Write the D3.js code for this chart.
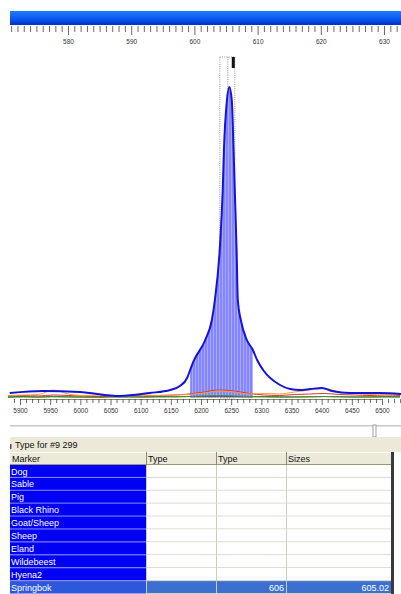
<!DOCTYPE html>
<html><head><meta charset="utf-8">
<script src="https://cdn.jsdelivr.net/npm/d3@7"></script>
<style>
html,body{margin:0;padding:0;background:#fff;}
svg{display:block;}
text{font-family:"Liberation Sans",Arial,sans-serif;}
</style></head>
<body>
<script>
// ---------- data ----------
const sizeTicks = [580, 590, 600, 610, 620, 630];
const scanTicks = [5900, 5950, 6000, 6050, 6100, 6150, 6200, 6250, 6300, 6350, 6400, 6450, 6500];

const blueScan = [5883, 5938, 5999, 6066, 6115, 6149, 6165, 6177, 6182, 6187, 6207, 6218, 6223, 6231, 6236, 6238, 6243, 6247, 6251, 6254, 6256, 6259, 6261, 6266, 6276, 6286, 6293, 6303, 6331, 6348, 6364, 6381, 6401, 6417, 6447, 6497, 6532];
const blueVal  = [50, 70, 60, 20, 50, 80, 120, 200, 280, 360, 580, 780, 980, 1480, 2080, 2480, 2980, 3110, 2980, 2480, 2080, 1480, 980, 780, 580, 480, 380, 280, 130, 90, 80, 90, 100, 70, 50, 50, 40];

const minorScan = [5880, 5905, 5930, 5955, 5980, 6005, 6030, 6055, 6080, 6105, 6130, 6155, 6180, 6205, 6230, 6255, 6280, 6305, 6330, 6355, 6380, 6405, 6430, 6455, 6480, 6505, 6530];
const orangeVal = [25, 30, 35, 80, 40, 25, 30, 20, 25, 30, 25, 30, 35, 50, 70, 60, 40, 45, 40, 60, 80, 95, 60, 45, 35, 40, 35];
const redVal    = [20, 25, 20, 30, 25, 20, 15, 20, 25, 20, 25, 30, 40, 60, 80, 70, 45, 30, 25, 35, 40, 45, 35, 30, 25, 30, 25];
const greenVal  = [5, 10, 8, 12, 10, 8, 5, 10, 12, 8, 10, 12, 15, 20, 25, 20, 15, 10, 8, 10, 12, 15, 12, 10, 8, 10, 8];
const darkVal   = [12, 15, 10, 15, 12, 10, 14, 12, 10, 12, 15, 12, 14, 16, 18, 15, 12, 14, 12, 10, 12, 14, 12, 10, 12, 14, 12];

const fillRange = [6182, 6286];
const binRange = [6232, 6256];

const titleText = "Type for #9 299";
const headers = ["Marker", "Type", "Type", "Sizes"];
const markers = ["Dog", "Sable", "Pig", "Black Rhino", "Goat/Sheep", "Sheep", "Eland", "Wildebeest", "Hyena2", "Springbok"];
const typeCol = ["", "", "", "", "", "", "", "", "", "606"];
const sizeCol = ["", "", "", "", "", "", "", "", "", "605.02"];

// ---------- drawing ----------
const W = 401, H = 594;
const svg = d3.select("body").append("svg").attr("width", W).attr("height", H);
const defs = svg.append("defs");

const grad = defs.append("linearGradient").attr("id", "bar").attr("x1", 0).attr("y1", 0).attr("x2", 0).attr("y2", 1);
grad.append("stop").attr("offset", "0%").attr("stop-color", "#1f7cff");
grad.append("stop").attr("offset", "60%").attr("stop-color", "#0a55f0");
grad.append("stop").attr("offset", "100%").attr("stop-color", "#0030c0");

const pat = defs.append("pattern").attr("id", "stripes").attr("patternUnits", "userSpaceOnUse")
  .attr("width", 3).attr("height", 10);
pat.append("rect").attr("width", 3).attr("height", 10).attr("fill", "#8585ff");
pat.append("rect").attr("width", 1).attr("height", 10).attr("fill", "#a9a9ff");

// top blue bar
svg.append("rect").attr("x", 10).attr("y", 11).attr("width", W - 10).attr("height", 14).attr("fill", "url(#bar)");

// scales
const xBp = d3.scaleLinear().domain([580, 630]).range([68, 384]);
const xScan = d3.scaleLinear().domain([5900, 6500]).range([20, 382]);
const ySig = d3.scaleLinear().domain([0, 3110]).range([398, 87]);

// top ruler
const bpAll = d3.range(565, 634);
const topAxis = d3.axisBottom(xBp).tickValues(bpAll)
  .tickFormat(d => sizeTicks.includes(d) ? String(d) : "").tickSize(6).tickSizeOuter(0);
const gTop = svg.append("g").attr("transform", "translate(0,26)").call(topAxis);
gTop.select(".domain").remove();
gTop.selectAll(".tick line").attr("stroke", "#444").attr("stroke-width", 0.8)
  .attr("y2", d => sizeTicks.includes(d) ? 9 : 6);
gTop.selectAll(".tick text").attr("font-size", "6.5px").attr("fill", "#333").attr("y", 13)
  .attr("font-family", "Liberation Sans, Arial, sans-serif");
gTop.selectAll(".tick").filter(d => xBp(d) < 10).remove();

// bin box (dotted)
const bx0 = xScan(binRange[0]) - 0.5, bx1 = xScan(binRange[1]);
svg.append("rect").attr("x", bx0).attr("y", 57).attr("width", bx1 - bx0).attr("height", 398 - 57)
  .attr("fill", "none").attr("stroke", "#777").attr("stroke-width", 0.8).attr("stroke-dasharray", "1,1.2");
svg.append("line").attr("x1", (bx0 + bx1) / 2 + 0.5).attr("x2", (bx0 + bx1) / 2 + 0.5).attr("y1", 57).attr("y2", 90)
  .attr("stroke", "#777").attr("stroke-width", 0.8).attr("stroke-dasharray", "1,1.2");
svg.append("rect").attr("x", bx1 - 3).attr("y", 57).attr("width", 3).attr("height", 11).attr("fill", "#111");

// blue data
const blue = blueScan.map((s, i) => ({s, v: blueVal[i]}));
const fillPts = blue.filter(d => d.s >= fillRange[0] && d.s <= fillRange[1]);
svg.append("path").datum(fillPts)
  .attr("d", d3.area().x(d => xScan(d.s)).y0(ySig(3)).y1(d => ySig(d.v)).curve(d3.curveMonotoneX))
  .attr("fill", "url(#stripes)");

// minor traces
const minor = [
  {vals: darkVal, color: "#4a4a20"},
  {vals: greenVal, color: "#3c9a3c"},
  {vals: redVal, color: "#d83a2a"},
  {vals: orangeVal, color: "#ff9a3a"}
];
minor.forEach(m => {
  svg.append("path").datum(minorScan.map((s, i) => ({s, v: m.vals[i]})))
    .attr("d", d3.line().x(d => xScan(d.s)).y(d => ySig(d.v)).curve(d3.curveMonotoneX))
    .attr("fill", "none").attr("stroke", m.color).attr("stroke-width", 1);
});

// blue trace
svg.append("path").datum(blue)
  .attr("d", d3.line().x(d => xScan(d.s)).y(d => ySig(d.v)).curve(d3.curveMonotoneX))
  .attr("fill", "none").attr("stroke", "#1414d8").attr("stroke-width", 2);

// bottom axis
const scanAll = d3.range(5870, 6540, 10);
const botAxis = d3.axisBottom(xScan).tickValues(scanAll)
  .tickFormat(d => scanTicks.includes(d) ? String(d) : "").tickSize(4).tickSizeOuter(0);
const gBot = svg.append("g").attr("transform", "translate(0,399)").call(botAxis);
gBot.select(".domain").attr("stroke", "#6b6b3a").attr("stroke-width", 0.8);
gBot.selectAll(".tick").filter(d => xScan(d) < 10 || xScan(d) > W).remove();
gBot.selectAll(".tick line").attr("stroke", "#444").attr("stroke-width", 0.8)
  .attr("y2", d => scanTicks.includes(d) ? 6 : 4);
gBot.selectAll(".tick text").attr("font-size", "6.5px").attr("fill", "#333").attr("y", 9)
  .attr("font-family", "Liberation Sans, Arial, sans-serif");

// slider
svg.append("rect").attr("x", 10).attr("y", 425).attr("width", W - 10).attr("height", 1.5).attr("fill", "#c8c8c8");
svg.append("rect").attr("x", 373).attr("y", 425).attr("width", 3).attr("height", 12).attr("fill", "#fff")
  .attr("stroke", "#888").attr("stroke-width", 0.8);

// title bar
svg.append("rect").attr("x", 10).attr("y", 437).attr("width", W - 10).attr("height", 15).attr("fill", "#ece9d8");
svg.append("rect").attr("x", 10).attr("y", 444).attr("width", 1.5).attr("height", 5).attr("fill", "#555");
svg.append("text").attr("x", 15).attr("y", 448).attr("font-size", "9px").attr("fill", "#111").text(titleText);

// table
const colX = [10, 146, 216, 286, 391];
const hTop = 452, hH = 13, rTop = 465, rowH = 12.9;
svg.append("rect").attr("x", 10).attr("y", hTop).attr("width", 381).attr("height", hH).attr("fill", "#ece9d8");
svg.append("line").attr("x1", 10).attr("x2", 391).attr("y1", hTop + 0.5).attr("y2", hTop + 0.5).attr("stroke", "#fff");
svg.append("line").attr("x1", 10).attr("x2", 391).attr("y1", hTop + hH - 0.5).attr("y2", hTop + hH - 0.5).attr("stroke", "#9a9680");
headers.forEach((h, i) => {
  svg.append("text").attr("x", colX[i] + 2).attr("y", hTop + 9.5).attr("font-size", "9px").attr("fill", "#111").text(h);
  if (i > 0) svg.append("line").attr("x1", colX[i] + 0.5).attr("x2", colX[i] + 0.5).attr("y1", hTop).attr("y2", hTop + hH)
    .attr("stroke", "#8c8a78");
});

const rows = svg.append("g").selectAll("g").data(markers).join("g")
  .attr("transform", (d, i) => `translate(0,${rTop + i * rowH})`);
rows.append("rect").attr("x", colX[1]).attr("width", colX[4] - colX[1]).attr("height", rowH)
  .attr("fill", (d, i) => i === markers.length - 1 ? "#3b6fd0" : "#fff");
rows.append("rect").attr("x", colX[0]).attr("width", colX[1] - colX[0]).attr("height", rowH)
  .attr("fill", (d, i) => i === markers.length - 1 ? "#2d58dc" : "#0000f5");
rows.append("line").attr("x1", colX[0]).attr("x2", colX[1]).attr("y1", rowH - 0.5).attr("y2", rowH - 0.5)
  .attr("stroke", "#9a9aff").attr("stroke-width", 1);
rows.append("line").attr("x1", colX[1]).attr("x2", colX[4]).attr("y1", rowH - 0.5).attr("y2", rowH - 0.5)
  .attr("stroke", "#d6d3c8").attr("stroke-width", 1);
[1, 2, 3].forEach(c => rows.append("line").attr("x1", colX[c] + 0.5).attr("x2", colX[c] + 0.5).attr("y1", 0).attr("y2", rowH)
  .attr("stroke", "#d0cdc0"));
rows.append("text").attr("x", colX[0] + 1).attr("y", 9.5).attr("font-size", "9px").attr("fill", "#fff").text(d => d);
rows.append("text").attr("x", colX[3] - 2).attr("y", 9.5).attr("text-anchor", "end").attr("font-size", "9px")
  .attr("fill", "#fff").text((d, i) => typeCol[i]);
rows.append("text").attr("x", colX[4] - 2).attr("y", 9.5).attr("text-anchor", "end").attr("font-size", "9px")
  .attr("fill", "#fff").text((d, i) => sizeCol[i]);

// right border
svg.append("rect").attr("x", 391).attr("y", hTop).attr("width", 3).attr("height", H - hTop).attr("fill", "#3a3a3a");
</script>
</body></html>
